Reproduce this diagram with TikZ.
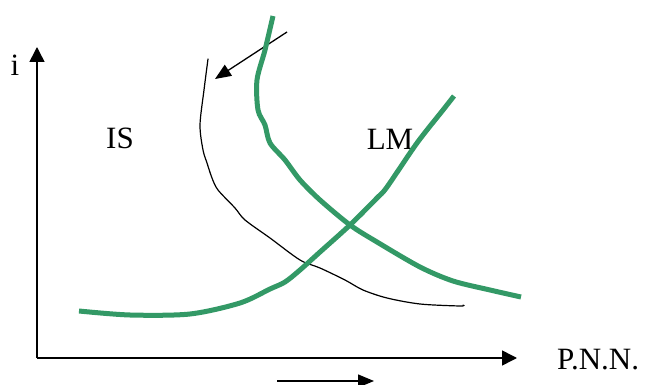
\documentclass[tikz,border=0pt]{standalone}
\usepackage{fontspec}
\setmainfont{Liberation Serif}
\usetikzlibrary{arrows.meta}
\definecolor{curvegreen}{RGB}{51,153,102}
\begin{document}
\begin{tikzpicture}[x=1pt,y=-1pt,
  axis/.style={line width=1.6pt,-{Triangle[length=15pt,width=15pt]}},
  shiftarrow/.style={line width=1.3pt,-{Triangle[length=16pt,width=13pt]}},
  thincurve/.style={line width=1.2pt,black,line cap=round},
  thickcurve/.style={line width=5pt,curvegreen},
  lbl/.style={font=\fontsize{31}{32}\selectfont,inner sep=0pt}]
\useasboundingbox (0,0) rectangle (646,385);
% axes
\coordinate (O) at (37,358);
\coordinate (ytip) at (37,47);
\coordinate (xtip) at (517,358);
\draw[axis] (O) -- (xtip);
\draw[axis] (O) -- (ytip);
% labels
\node[lbl] (ilabel) at (15,65) {i};
\node[lbl] (islabel) at (120,138) {IS};
\node[lbl] (lmlabel) at (390,139) {LM};
\node[lbl,anchor=west] (pnnlabel) at (557,360) {P.N.N.};
% shift arrows
\coordinate (a1s) at (287,32);
\coordinate (a1e) at (215,79);
\draw[shiftarrow] (a1s) -- (a1e);
\coordinate (a2s) at (277,381);
\coordinate (a2e) at (374,381);
\draw[shiftarrow] (a2s) -- (a2e);
% original IS curve (thin)
\draw[thincurve] plot[smooth,tension=0.5] coordinates {(208,59) (204,90) (200,125) (203,150) (207,163) (212,178) (218,190) (235,208) (245,220) (270,238) (300,260) (320,268) (345,280) (363,290) (387,298) (420,304) (460,306) (463,305)};
% shifted IS curve (green)
\draw[thickcurve] plot[smooth,tension=0.5] coordinates {(273,16) (265,50) (257,80) (258,110) (265,125) (270,143) (285,160) (300,180) (320,200) (350,225) (377,242) (420,267) (453,281) (490,290) (521,297)};
% LM curve (green)
\draw[thickcurve] plot[smooth,tension=0.5] coordinates {(79,311) (130,315) (190,314) (240,303) (270,289) (285,282) (300,270) (320,252) (350,225) (377,198) (387,187) (417,143) (443,110) (454,96)};
\end{tikzpicture}
\end{document}
